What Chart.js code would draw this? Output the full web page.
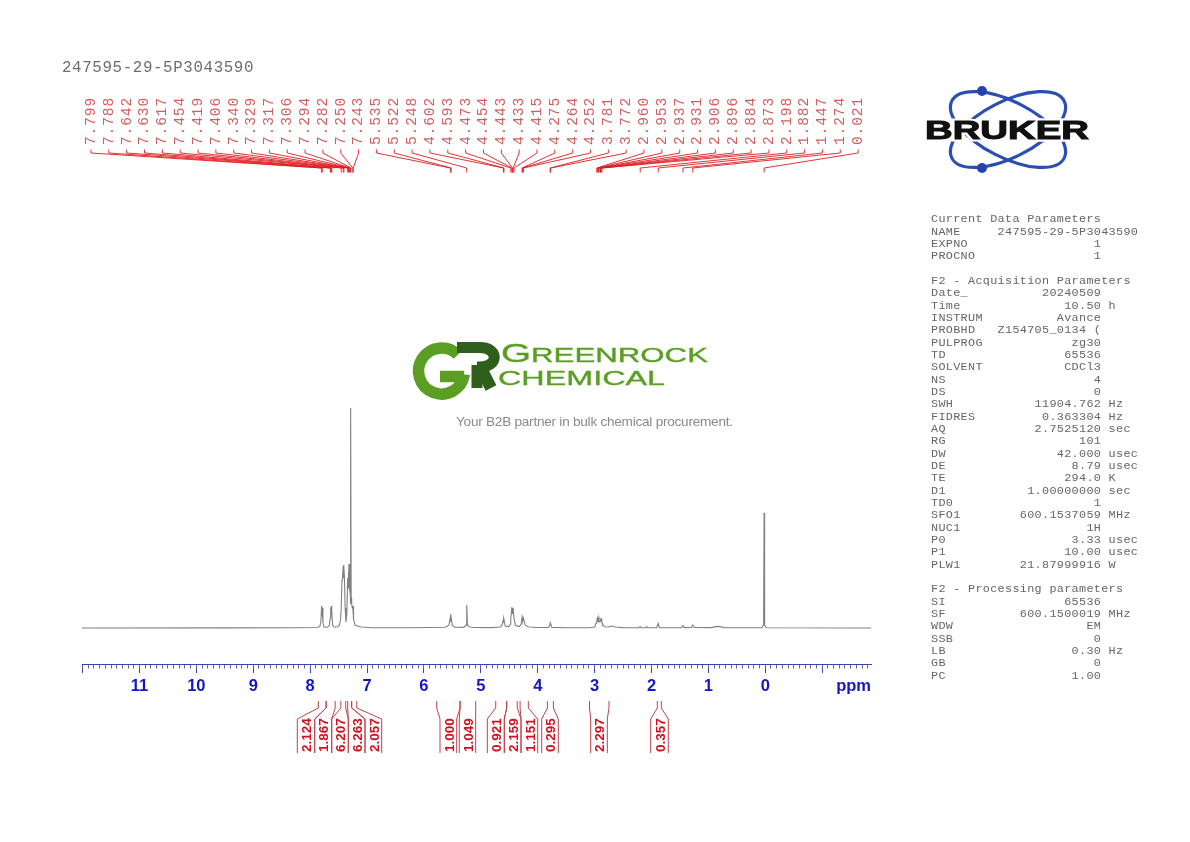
<!DOCTYPE html>
<html>
<head>
<meta charset="utf-8">
<title>247595-29-5P3043590</title>
<script src="https://cdn.jsdelivr.net/npm/chart.js@4"></script>
<style>
  html, body { margin: 0; padding: 0; background: #fff; width: 1190px; height: 842px; overflow: hidden; }
  #spectrum { position: absolute; left: 0; top: 0; }
  #sample-name { position: absolute; left: 62px; top: 58px; font: 15.8px/20px "Liberation Mono", monospace; letter-spacing: 0.63px; color: #6e6e6e; white-space: pre; }
  #params { position: absolute; left: 931px; top: 213.4px; margin: 0; font: 11.8px/12.33px "Liberation Mono", monospace; letter-spacing: 0.32px; color: #666; }
  #logos { position: absolute; left: 0; top: 0; }
</style>
</head>
<body>
<canvas id="spectrum" width="1190" height="842"></canvas>
<svg id="logos" width="1190" height="842" xmlns="http://www.w3.org/2000/svg">
  <!-- bruker atom -->
  <g fill="none" stroke="#2b4eb4" stroke-width="3.2">
    <ellipse cx="1008" cy="129.5" rx="63" ry="28" transform="rotate(27 1008 129.5)"/>
    <ellipse cx="1008" cy="129.5" rx="63" ry="28" transform="rotate(-27 1008 129.5)"/>
  </g>
  <circle cx="982" cy="91" r="5" fill="#2443ae"/>
  <circle cx="982" cy="168" r="5" fill="#2443ae"/>
  <text x="925" y="139.3" font-family="Liberation Sans" font-weight="700" font-size="25.5" textLength="164" lengthAdjust="spacingAndGlyphs" fill="#111" stroke="#fff" stroke-width="5" paint-order="stroke">BRUKER</text>
  <text x="925" y="139.3" font-family="Liberation Sans" font-weight="700" font-size="25.5" textLength="164" lengthAdjust="spacingAndGlyphs" fill="#111" stroke="#111" stroke-width="1">BRUKER</text>
  <!-- greenrock mark -->
  <path d="M 457.8 354.8 A 23 23 0 1 0 464.2 375 L 464.2 376.5 L 440 376.5" fill="none" stroke="#5b9e24" stroke-width="11.5" stroke-linejoin="bevel"/>
  <path d="M 457 347.5 L 480 347.5 C 499 347.5 499 367 480 367 L 477 367" fill="none" stroke="#2f5f1c" stroke-width="11"/>
  <path d="M 477 365 L 477 388" fill="none" stroke="#2f5f1c" stroke-width="11"/>
  <path d="M 481 368 L 491 388" fill="none" stroke="#2f5f1c" stroke-width="12"/>
  <text x="501" y="361.5" font-family="Liberation Sans" font-size="21" textLength="207" lengthAdjust="spacingAndGlyphs" fill="#5b9e24" stroke="#5b9e24" stroke-width="0.35"><tspan font-size="26">G</tspan>REENROCK</text>
  <text x="498" y="385" font-family="Liberation Sans" font-size="20.5" textLength="167" lengthAdjust="spacingAndGlyphs" fill="#5b9e24" stroke="#5b9e24" stroke-width="0.35">CHEMICAL</text>
  <text x="456" y="426" font-family="Liberation Sans" font-size="13.6" textLength="277" fill="#8a8a8a">Your B2B partner in bulk chemical procurement.</text>
</svg>
<div id="sample-name">247595-29-5P3043590</div>
<pre id="params"></pre>

<script>
// spectrum outline, ppm going down
const specPpm = [12.01, 9.5, 8.2, 7.88, 7.83, 7.81, 7.799, 7.794, 7.788, 7.775, 7.755, 7.7, 7.665, 7.65, 7.642, 7.636, 7.63, 7.624, 7.617, 7.605, 7.575, 7.52, 7.485, 7.465, 7.454, 7.44, 7.43, 7.419, 7.413, 7.406, 7.398, 7.385, 7.37, 7.355, 7.34, 7.334, 7.329, 7.323, 7.317, 7.311, 7.306, 7.3, 7.294, 7.291, 7.285, 7.279, 7.27, 7.258, 7.25, 7.246, 7.243, 7.23, 7.21, 7.17, 7.1, 6.9,
  6.2, 5.62, 5.56, 5.535, 5.528, 5.522, 5.5, 5.46, 5.3, 5.26, 5.248, 5.235, 5.2, 5.12, 4.8, 4.66, 4.625, 4.602, 4.597, 4.593, 4.57, 4.51, 4.48, 4.473, 4.454, 4.443, 4.433, 4.415, 4.39, 4.32, 4.29, 4.275, 4.264, 4.252, 4.22, 4.16, 4.0, 3.82, 3.79, 3.781, 3.776, 3.772, 3.75, 3.5,
  3.1, 3.0, 2.975, 2.96, 2.953, 2.945, 2.937, 2.931, 2.92, 2.906, 2.896, 2.884, 2.873, 2.85, 2.82, 2.76, 2.7, 2.64, 2.5, 2.22, 2.198, 2.18, 2.1, 2.085, 2.07, 1.91, 1.882, 1.86, 1.47, 1.447, 1.425, 1.3, 1.274, 1.25, 0.95, 0.87, 0.82, 0.72, 0.06, 0.03, 0.021, 0.012, -0.02, -1.858];
const specIntensity = [0, 0.1, 0.2, 0.5, 1.5, 7, 22, 12, 20, 5, 1, 0.8, 2, 9, 20, 13, 22, 13, 17, 3, 1, 1.2, 2.5, 9, 20, 48, 52, 62, 50, 63, 52, 20, 6, 14, 50, 40, 56, 46, 64, 46, 52, 38, 34, 24, 220, 30, 24, 20, 22, 17, 22, 8, 3, 2, 1, 0.3,
  0.3, 0.8, 3, 11, 6, 10.5, 2.5, 0.8, 0.6, 3, 23, 2.5, 1, 0.5, 0.4, 1, 3, 9, 5, 9, 2, 1.2, 4, 10, 21, 14, 20, 9, 2.5, 1.5, 4, 11, 7, 10, 3, 1, 0.5, 0.5, 2, 5, 3, 4.5, 0.6, 0.3,
  0.3, 1, 5, 8, 9.5, 6, 10, 7, 6, 9, 7.5, 9, 6, 2.5, 1.3, 1, 2, 1, 0.4, 0.3, 1.5, 0.3, 0.3, 1.5, 0.3, 0.4, 4.5, 0.4, 0.3, 2.5, 0.4, 0.5, 3, 0.5, 0.4, 1.4, 1.6, 0.4, 0.3, 3, 115, 3, 0.3, 0];

// picked peaks
const peakLabels = ['7.799', '7.788', '7.642', '7.630', '7.617', '7.454', '7.419', '7.406', '7.340', '7.329', '7.317', '7.306', '7.294', '7.282', '7.250', '7.243',
  '5.535', '5.522', '5.248', '4.602', '4.593', '4.473', '4.454', '4.443', '4.433', '4.415', '4.275', '4.264', '4.252', '3.781', '3.772',
  '2.960', '2.953', '2.937', '2.931', '2.906', '2.896', '2.884', '2.873', '2.198', '1.882', '1.447', '1.274', '0.021'];
const peakPpm = peakLabels.map(Number);

// integrals: region limits in ppm and the printed area
const integralLabels = ['2.124', '1.867', '6.207', '6.263', '2.057', '1.000', '1.049', '0.921', '2.159', '1.151', '0.295', '2.297', '0.357'];
const integralFrom = [7.856, 7.72, 7.46, 7.34, 7.27, 5.775, 5.365, 4.738, 4.545, 4.31, 3.83, 3.09, 1.898];
const integralTo = [7.72, 7.56, 7.375, 7.27, 7.18, 5.365, 5.09, 4.545, 4.36, 4.165, 3.725, 2.747, 1.828];

// axis
const majorTicks = [12, 11, 10, 9, 8, 7, 6, 5, 4, 3, 2, 1, 0, -1];
const majorLabels = ['', '11', '10', '9', '8', '7', '6', '5', '4', '3', '2', '1', '0', ''];

// acquisition table
const headRows = [['NAME', '247595-29-5P3043590'], ['EXPNO', '1'], ['PROCNO', '1']];
const acqRows = [['Date_', '20240509'], ['Time', '10.50', 'h'], ['INSTRUM', 'Avance'], ['PROBHD', 'Z154705_0134 ('], ['PULPROG', 'zg30'], ['TD', '65536'], ['SOLVENT', 'CDCl3'], ['NS', '4'], ['DS', '0'], ['SWH', '11904.762', 'Hz'], ['FIDRES', '0.363304', 'Hz'], ['AQ', '2.7525120', 'sec'], ['RG', '101'], ['DW', '42.000', 'usec'], ['DE', '8.79', 'usec'], ['TE', '294.0', 'K'], ['D1', '1.00000000', 'sec'], ['TD0', '1'], ['SFO1', '600.1537059', 'MHz'], ['NUC1', '1H'], ['P0', '3.33', 'usec'], ['P1', '10.00', 'usec'], ['PLW1', '21.87999916', 'W']];
const procRows = [['SI', '65536'], ['SF', '600.1500019', 'MHz'], ['WDW', 'EM'], ['SSB', '0'], ['LB', '0.30', 'Hz'], ['GB', '0'], ['PC', '1.00']];

function paramLine(r) {
  const line = r[0].padEnd(9) + r[1].padStart(14);
  return r[2] ? line + ' ' + r[2] : line;
}
document.getElementById('params').textContent = [
  'Current Data Parameters', ...headRows.map(paramLine), '',
  'F2 - Acquisition Parameters', ...acqRows.map(paramLine), '',
  'F2 - Processing parameters', ...procRows.map(paramLine)
].join('\n');

// page layout of the red annotations
const fanFirstX = 91, fanStep = 17.84;
const integralBottomX = [[297.3, 314.7], [314.7, 331.7], [331.7, 348.3], [348.3, 365], [365, 381.7], [440, 456.7], [459.3, 475.7], [487.3, 504.3], [504.3, 521], [521, 537.7], [541.7, 558.3], [590.7, 607.3], [650.7, 668.3]];

const annotations = {
  id: 'annotations',
  afterDraw(chart) {
    const ctx = chart.ctx;
    const x = chart.scales.x;
    ctx.save();

    // peak labels and their fan
    ctx.strokeStyle = '#e01c20';
    ctx.lineWidth = 0.9;
    peakPpm.forEach((ppm, i) => {
      const lx = fanFirstX + i * fanStep;
      const px = x.getPixelForValue(ppm);
      ctx.beginPath();
      ctx.moveTo(lx, 149.5);
      ctx.lineTo(lx, 153);
      ctx.lineTo(px, 168);
      ctx.lineTo(px, 172.5);
      ctx.stroke();
      ctx.save();
      ctx.translate(lx, 145);
      ctx.rotate(-Math.PI / 2);
      ctx.fillStyle = '#d45f5f';
      ctx.font = '14.6px "Liberation Mono"';
      ctx.letterSpacing = '0.84px';
      ctx.textAlign = 'left';
      ctx.textBaseline = 'middle';
      ctx.fillText(peakLabels[i], 0, 0);
      ctx.restore();
    });

    // integral brackets
    ctx.strokeStyle = '#c2404a';
    ctx.lineWidth = 1;
    integralLabels.forEach((label, i) => {
      const tops = [x.getPixelForValue(integralFrom[i]), x.getPixelForValue(integralTo[i])];
      const bottoms = integralBottomX[i];
      tops.forEach((tx, k) => {
        ctx.beginPath();
        ctx.moveTo(tx, 701);
        ctx.lineTo(tx, 708);
        ctx.lineTo(bottoms[k], 719);
        ctx.lineTo(bottoms[k], 753);
        ctx.stroke();
      });
      ctx.save();
      ctx.translate((bottoms[0] + bottoms[1]) / 2, 752);
      ctx.rotate(-Math.PI / 2);
      ctx.fillStyle = '#d3101e';
      ctx.font = 'bold 13.5px "Liberation Sans"';
      ctx.textAlign = 'left';
      ctx.textBaseline = 'middle';
      ctx.fillText(label, 0, 1.5);
      ctx.restore();
    });

    // unit at the end of the axis
    ctx.fillStyle = '#1414c8';
    ctx.font = 'bold 16.5px "Liberation Sans"';
    ctx.textAlign = 'right';
    ctx.textBaseline = 'middle';
    ctx.fillText('ppm', 871, 686);
    ctx.restore();
  }
};

new Chart(document.getElementById('spectrum'), {
  type: 'line',
  data: {
    datasets: [{
      data: specPpm.map((p, i) => ({ x: p, y: specIntensity[i] })),
      borderColor: '#808080',
      borderWidth: 1.1,
      pointRadius: 0,
      tension: 0,
      fill: false
    }]
  },
  plugins: [annotations],
  options: {
    responsive: false,
    animation: false,
    parsing: { xAxisKey: 'x', yAxisKey: 'y' },
    layout: { padding: { left: 82, right: 319, top: 400, bottom: 138 } },
    plugins: { legend: { display: false }, tooltip: { enabled: false } },
    scales: {
      y: { display: false, min: -36, max: 228 },
      x: {
        type: 'linear',
        reverse: true,
        min: -1.858,
        max: 12.01,
        weight: 1,
        afterBuildTicks: axis => { axis.ticks = majorTicks.map(v => ({ value: v })); },
        afterFit: axis => { axis.height = 40; },
        border: { color: '#3a44b0', width: 1 },
        grid: { drawOnChartArea: false, tickLength: 9, tickColor: '#3a44b0', tickWidth: 1 },
        ticks: {
          autoSkip: false,
          maxRotation: 0,
          padding: 4,
          color: '#1414c8',
          font: { family: 'Liberation Sans', weight: 'bold', size: 16.5 },
          callback: value => majorLabels[majorTicks.indexOf(value)]
        }
      },
      xMinor: {
        type: 'linear',
        position: 'bottom',
        reverse: true,
        min: -1.858,
        max: 12.01,
        weight: 0,
        afterBuildTicks: axis => {
          const minor = [];
          for (let i = -18; i <= 120; i++) minor.push({ value: i / 10 });
          axis.ticks = minor;
        },
        afterFit: axis => { axis.height = 0; },
        border: { display: false },
        grid: { drawOnChartArea: false, tickLength: 4.5, tickColor: '#5a62b8', tickWidth: 1 },
        ticks: { display: false, autoSkip: false }
      }
    }
  }
});
</script>
</body>
</html>
